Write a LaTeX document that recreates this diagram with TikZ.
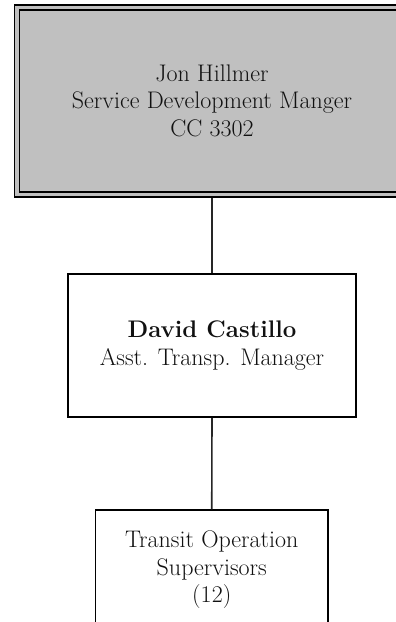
\documentclass[tikz,border=0pt]{standalone}
\usepackage{tikz}
\definecolor{boxGray}{HTML}{C0C0C0}
\definecolor{inkGray}{HTML}{111111}

\tikzset{
  chartText/.style={align=center, text=inkGray, font=\fontsize{24}{27.5}\selectfont},
  headBox/.style={chartText, draw=black, fill=boxGray, line width=1.5pt,
    double=boxGray, double distance=3.5pt},
  staffBox/.style={chartText, draw=black, fill=white, line width=1.5pt},
  link/.style={draw=black!85, line width=1.6pt}
}

\begin{document}
\begin{tikzpicture}[x=1pt,y=-1pt]
\useasboundingbox (0,0) rectangle (396,622);
\clip (0,0) rectangle (396,622);


\node[headBox, minimum width=390pt, minimum height=187pt] (hillmer) at (212,100.8)
  {Jon Hillmer\\Service Development Manger\\CC 3302};


\node[staffBox, minimum width=288pt, minimum height=143pt] (castillo) at (212,345.5)
  {\textbf{David Castillo}\\Asst. Transp. Manager};

\node[staffBox, line width=1.3pt, minimum width=232.5pt, minimum height=120pt] (supervisors) at (211.75,570)
  {Transit Operation\\Supervisors\\(12)};


\draw[link, shorten <=2.5pt] (hillmer.south) -- (castillo.north);
\draw[link] (castillo.south) -- (supervisors.north);
\end{tikzpicture}
\end{document}
